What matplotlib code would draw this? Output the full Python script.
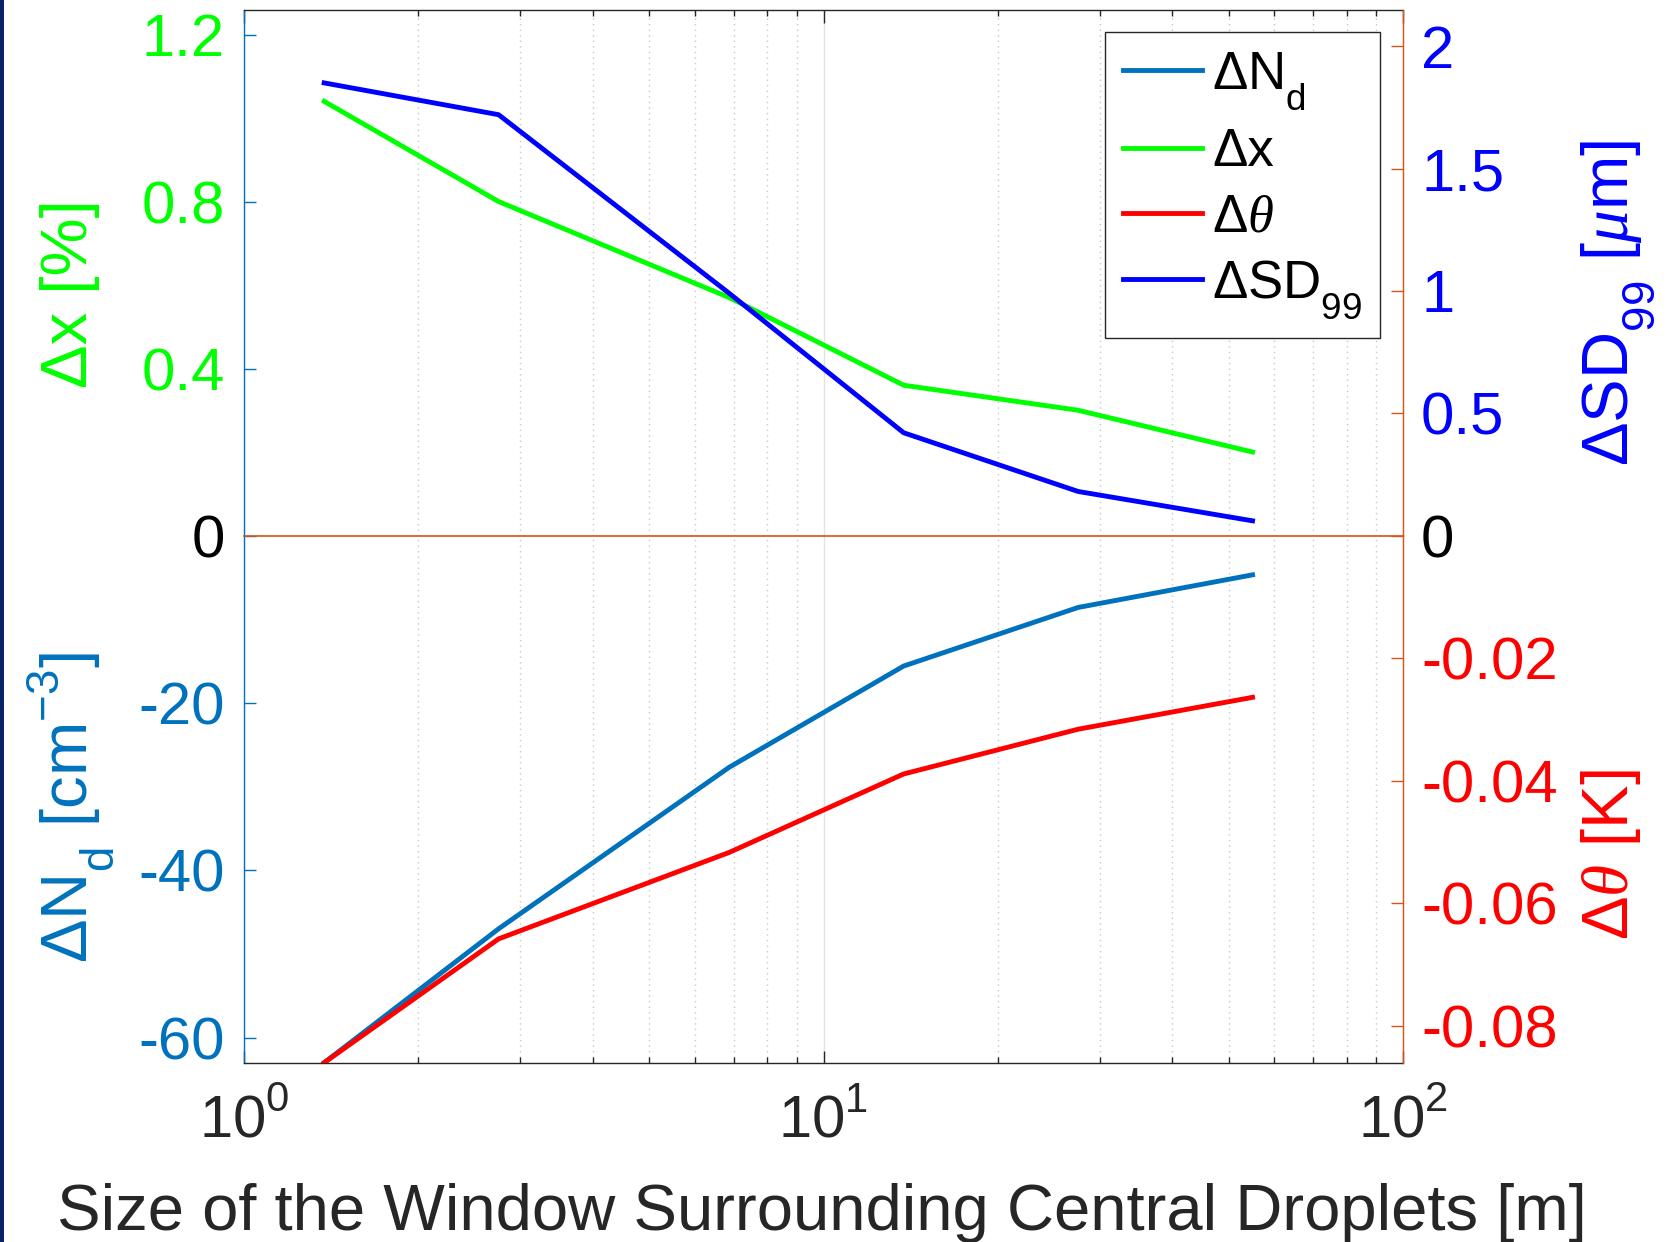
import numpy as np
import matplotlib
matplotlib.use('Agg')
import matplotlib.pyplot as plt
import matplotlib._mathtext as mtext
from matplotlib.patches import Rectangle
from matplotlib.ticker import LogLocator, NullFormatter

plt.rcParams['font.family'] = ['Liberation Sans', 'DejaVu Sans']
plt.rcParams['mathtext.fontset'] = 'custom'
plt.rcParams['mathtext.rm'] = 'Liberation Sans'
plt.rcParams['mathtext.it'] = 'Liberation Serif:italic'
plt.rcParams['mathtext.bf'] = 'Liberation Sans:bold'
# MATLAB-like sub/superscripts: pushed further from the baseline
mtext.FontConstantsBase.sub1 = 0.9
mtext.FontConstantsBase.sup1 = 0.95

# data
window_size = [1.375, 2.75, 6.875, 13.75, 27.5, 55]
d_x = [1.04, 0.80, 0.57, 0.36, 0.30, 0.20]          # [%]
d_sd99 = [1.85, 1.72, 0.99, 0.42, 0.18, 0.06]       # [um]
d_nd = [-63.0, -47.0, -27.7, -15.6, -8.6, -4.7]     # [cm^-3]
d_theta = [-0.086, -0.0658, -0.0517, -0.0389, -0.0316, -0.0264]  # [K]

c_nd = '#0072BD'
c_x = '#00FF00'
c_th = '#FF0000'
c_sd = '#0000FF'
c_orange = '#D95319'
c_dark = '#262626'

W, H = 1669, 1242
fig = plt.figure(figsize=(W / 100, H / 100), dpi=100)

L, R = 244 / W, 1403 / W
T = 1 - 9.5 / H
M = 1 - 535.5 / H
B = 1 - 1062.7 / H

ax_t = fig.add_axes([L, M, R - L, T - M])
ax_b = fig.add_axes([L, B, R - L, M - B], sharex=ax_t)
ax_b.patch.set_visible(False)
ax_tr = ax_t.twinx()
ax_br = ax_b.twinx()

lw = 3.5
h_nd, = ax_b.plot(window_size, d_nd, color=c_nd, lw=lw, label='Δ' + r'N$_\mathrm{d}$')
h_x, = ax_t.plot(window_size, d_x, color=c_x, lw=lw, label='Δx')
h_th, = ax_br.plot(window_size, d_theta, color=c_th, lw=lw, label='Δ' + r'$\theta$')
h_sd, = ax_tr.plot(window_size, d_sd99, color=c_sd, lw=lw, label='Δ' + r'SD$_{99}$')

ax_t.set_xscale('log')
ax_t.set_xlim(1, 100)
ax_t.set_ylim(0, 1.26)
ax_tr.set_ylim(0, 2.15)
ax_b.set_ylim(-63, 0)
ax_br.set_ylim(-0.086, 0)

tick_fs = 43
for ax in (ax_t, ax_b):
    ax.xaxis.set_major_locator(LogLocator(base=10, numticks=10))
    ax.xaxis.set_minor_locator(LogLocator(base=10, subs=np.arange(2, 10), numticks=10))
    ax.xaxis.set_minor_formatter(NullFormatter())
    ax.grid(True, which='major', axis='x', color='#e3e3e3', lw=1.0, ls='-')
    ax.grid(True, which='minor', axis='x', color='#c8c8c8', lw=1.0, ls=(0, (1, 3)))
    ax.set_axisbelow(True)

ax_t.tick_params(axis='x', which='both', bottom=False, labelbottom=False, top=True,
                 direction='in', color=c_dark, width=1)
ax_t.tick_params(axis='x', which='major', length=9)
ax_t.tick_params(axis='x', which='minor', length=4.5)
ax_b.tick_params(axis='x', which='both', bottom=True, top=False, direction='in',
                 color=c_dark, width=1, labelsize=tick_fs, labelcolor=c_dark, pad=20)
ax_b.tick_params(axis='x', which='major', length=9)
ax_b.tick_params(axis='x', which='minor', length=4.5)
ax_b.set_xticks([1, 10, 100])
ax_b.set_xticklabels([r'$10^{0}$', r'$10^{1}$', r'$10^{2}$'])

# y ticks
left_top_ticks = [0, 0.4, 0.8, 1.2]
left_top_labels = ['0', '0.4', '0.8', '1.2']
right_top_ticks = [0, 0.5, 1, 1.5, 2]
right_top_labels = ['0', '0.5', '1', '1.5', '2']
left_bot_ticks = [-60, -40, -20]
left_bot_labels = ['-60', '-40', '-20']
right_bot_ticks = [-0.08, -0.06, -0.04, -0.02]
right_bot_labels = ['-0.08', '-0.06', '-0.04', '-0.02']

ax_t.set_yticks(left_top_ticks, left_top_labels)
ax_tr.set_yticks(right_top_ticks, right_top_labels)
ax_b.set_yticks(left_bot_ticks, left_bot_labels)
ax_br.set_yticks(right_bot_ticks, right_bot_labels)

for ax in (ax_t, ax_b):
    ax.tick_params(axis='y', direction='in', length=8.6, width=1, color=c_nd,
                   labelsize=tick_fs, pad=14)
for ax in (ax_tr, ax_br):
    ax.tick_params(axis='y', direction='in', length=8.6, width=1, color=c_orange,
                   labelsize=tick_fs, pad=13)

for lab in ax_t.get_yticklabels():
    lab.set_color('black' if lab.get_text() == '0' else c_x)
for lab in ax_tr.get_yticklabels():
    lab.set_color('black' if lab.get_text() == '0' else c_sd)
for lab in ax_b.get_yticklabels():
    lab.set_color(c_nd)
for lab in ax_br.get_yticklabels():
    lab.set_color(c_th)

# spines
for ax in (ax_t, ax_b):
    ax.spines['right'].set_visible(False)
    ax.spines['left'].set_color(c_nd)
    ax.spines['left'].set_linewidth(1.0)
for ax in (ax_tr, ax_br):
    for s in ('left', 'top', 'bottom'):
        ax.spines[s].set_visible(False)
    ax.spines['right'].set_color(c_orange)
    ax.spines['right'].set_linewidth(1.0)
ax_t.spines['top'].set_color(c_dark)
ax_t.spines['top'].set_linewidth(1.0)
ax_t.spines['bottom'].set_visible(False)
ax_b.spines['top'].set_visible(False)
ax_b.spines['bottom'].set_color(c_dark)
ax_b.spines['bottom'].set_linewidth(1.0)

# zero line shared by both halves
ax_tr.axhline(0, color=c_orange, lw=1.2, clip_on=False, zorder=1)

# axis labels
lab_fs = 47
fig.text(87 / W, 1 - 293.5 / H, 'Δx [%]', color=c_x, fontsize=lab_fs, rotation=90,
         rotation_mode='anchor', ha='center', va='baseline')
fig.text(87 / W, 1 - 808 / H, 'Δ' + r'N$_\mathrm{d}$ [cm$^{-3}$]', color=c_nd, fontsize=lab_fs,
         rotation=90, rotation_mode='anchor', ha='center', va='baseline')
fig.text(1628 / W, 1 - 303.5 / H, 'Δ' + r'SD$_{99}$ [$\mu$m]', color=c_sd, fontsize=lab_fs,
         rotation=90, rotation_mode='anchor', ha='center', va='baseline')
fig.text(1628 / W, 1 - 855 / H, 'Δ' + r'$\theta$ [K]', color=c_th, fontsize=lab_fs,
         rotation=90, rotation_mode='anchor', ha='center', va='baseline')
fig.text(822 / W, 1 - 1230 / H, 'Size of the Window Surrounding Central Droplets [m]',
         color=c_dark, fontsize=lab_fs, ha='center', va='baseline')

# legend
leg = ax_tr.legend([h_nd, h_x, h_th, h_sd], [h.get_label() for h in (h_nd, h_x, h_th, h_sd)],
                   loc='upper right', bbox_to_anchor=(1380 / W, 1 - 32 / H),
                   bbox_transform=fig.transFigure, borderaxespad=0, fontsize=38,
                   handlelength=1.5, handletextpad=0.2, labelspacing=0.29,
                   borderpad=0.33, fancybox=False, framealpha=1, edgecolor=c_dark)
leg.get_frame().set_linewidth(1.0)

# dark strip on the left edge
fig.add_artist(Rectangle((0, 0), 4 / W, 1, transform=fig.transFigure,
                         color='#0b2265', lw=0))

fig.savefig('out.png', dpi=100)
